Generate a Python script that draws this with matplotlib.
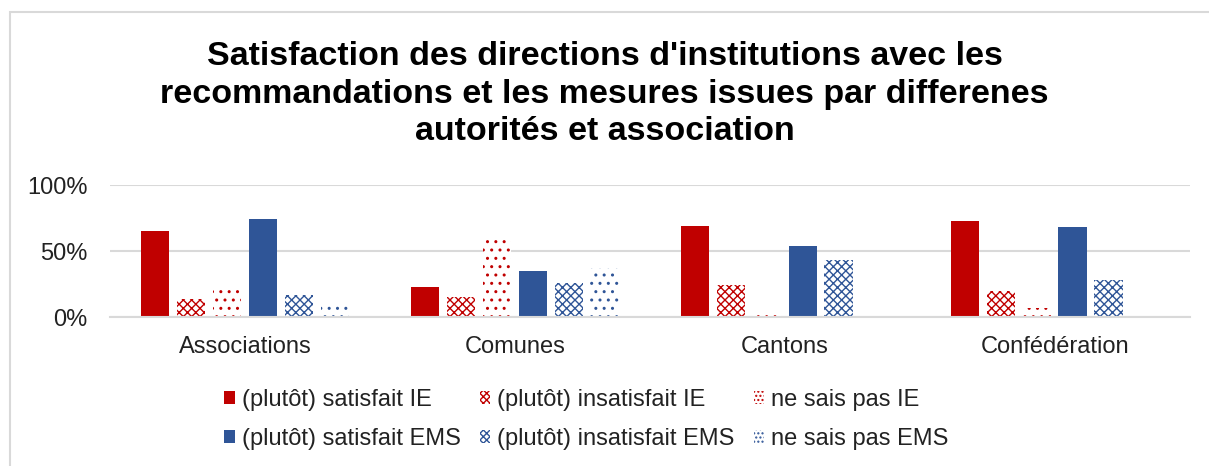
import numpy as np
import matplotlib as mpl
import matplotlib.pyplot as plt
from matplotlib.patches import Rectangle, Patch

mpl.rcParams["font.family"] = ["Liberation Sans", "DejaVu Sans"]
mpl.rcParams["hatch.linewidth"] = 1.0

categories = ["Associations", "Comunes", "Cantons", "Confédération"]
series = ["(plutôt) satisfait IE", "(plutôt) insatisfait IE", "ne sais pas IE",
          "(plutôt) satisfait EMS", "(plutôt) insatisfait EMS", "ne sais pas EMS"]
sat_ie = [65, 23, 69, 73]
insat_ie = [14, 15, 24, 20]
nsp_ie = [21, 60, 5, 7]
sat_ems = [74, 35, 54, 68]
insat_ems = [17, 26, 43, 28]
nsp_ems = [8, 37, 1, 1]
values = [sat_ie, insat_ie, nsp_ie, sat_ems, insat_ems, nsp_ems]

red = "#C00000"
blue = "#2F5597"
colors = [red, red, red, blue, blue, blue]
hatches = [None, "xxxx", "..", None, "xxxx", ".."]

fig = plt.figure(figsize=(12.09, 4.66), dpi=100)
ax = fig.add_axes([0.091, 0.3197, 0.893, 0.2833])

x = np.arange(len(categories))
pitch = 0.133
width = 0.105
handles = []
for i, (vals, c, h) in enumerate(zip(values, colors, hatches)):
    pos = x + (i - 2.5) * pitch
    v = np.array(vals) / 100.0
    if h is None:
        ax.bar(pos, v, width, color=c, linewidth=0)
        handles.append(Patch(facecolor=c, linewidth=0, label=series[i]))
    else:
        ax.bar(pos, v, width, facecolor="white", edgecolor=c, hatch=h, linewidth=0)
        # denser pattern so the small legend key shows it
        hh = "xxxxx" if "x" in h else "...."
        handles.append(Patch(facecolor="white", edgecolor=c, hatch=hh, linewidth=0, label=series[i]))

ax.set_xlim(-0.5, 3.5)
ax.set_ylim(0, 1.0)
ax.set_yticks([0, 0.5, 1.0])
ax.set_yticklabels(["0%", "50%", "100%"])
ax.set_xticks(x)
ax.set_xticklabels(categories)
ax.tick_params(axis="both", length=0, labelsize=17, colors="#222222")
ax.tick_params(axis="x", pad=14)
ax.tick_params(axis="y", pad=16)
ax.yaxis.grid(True, color="#D9D9D9", linewidth=1.5)
ax.set_axisbelow(True)
for s in ["top", "right", "left"]:
    ax.spines[s].set_visible(False)
ax.spines["bottom"].set_color("#D9D9D9")
ax.spines["bottom"].set_linewidth(1.5)

fig.text(0.5, 0.798, "Satisfaction des directions d'institutions avec les\n"
         "recommandations et les mesures issues par differenes\n"
         "autorités et association",
         ha="center", va="center", fontsize=24.5, fontweight="bold",
         linespacing=1.27, color="black")

# legend filled row by row like the original
order = [0, 3, 1, 4, 2, 5]
fig.legend(handles=[handles[k] for k in order], loc="center",
           bbox_to_anchor=(0.485, 0.1), ncol=3, frameon=False, fontsize=17,
           handlelength=0.45, handleheight=0.45, handletextpad=0.3,
           columnspacing=0.8, labelspacing=0.72, labelcolor="#222222")

fig.add_artist(Rectangle((10 / 1209, -0.1), 1.2, 1.1 - 12 / 466,
                         transform=fig.transFigure, fill=False,
                         edgecolor="#D9D9D9", linewidth=1.5))

fig.savefig("out.png", dpi=100)
